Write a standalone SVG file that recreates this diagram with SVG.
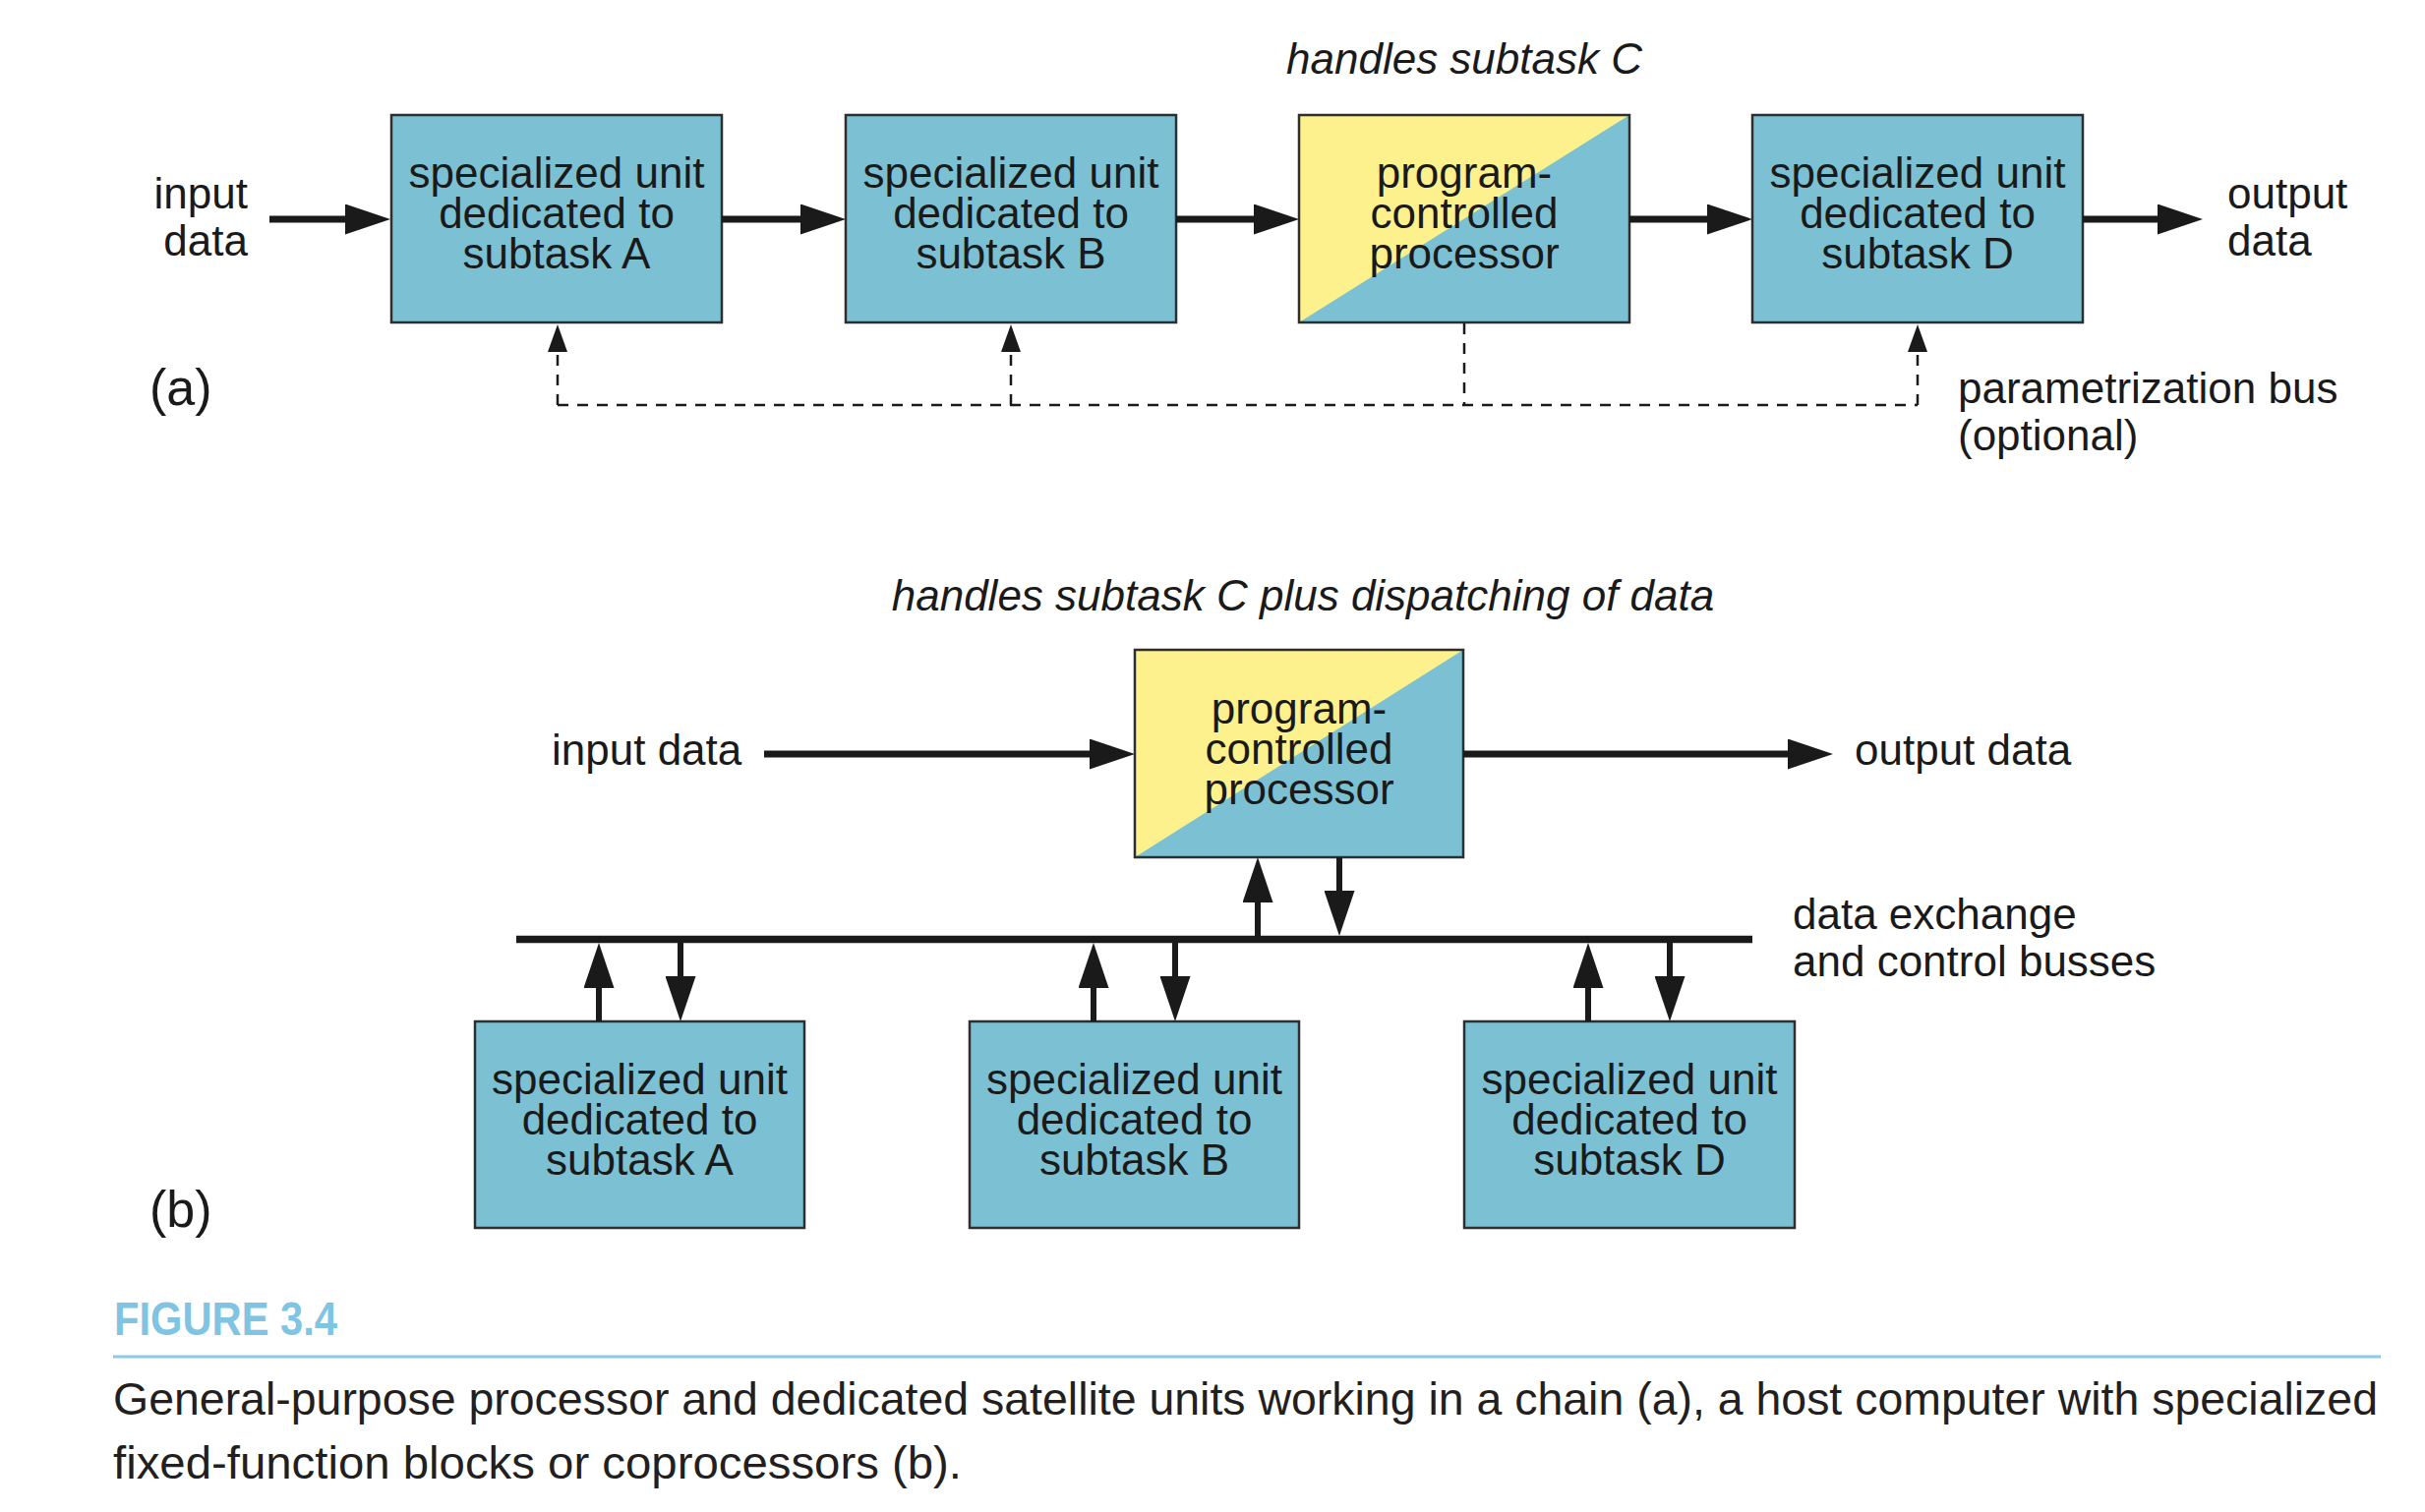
<svg xmlns="http://www.w3.org/2000/svg" width="2466" height="1538" viewBox="0 0 2466 1538">
<defs>
<style>
.box{fill:#7bc1d3;stroke:#2e2e2e;stroke-width:2.5}
.frame{fill:none;stroke:#2e2e2e;stroke-width:2.5}
.yel{fill:#fdf18e}
.t{font-family:"Liberation Sans",Arial,Helvetica,sans-serif;font-size:44px;fill:#1a1a1a}
.c{text-anchor:middle}
.it{font-style:italic}
.lab{font-size:52px}
.arr{stroke:#1a1a1a;stroke-width:7;fill:none;marker-end:url(#ah)}
.vArr{stroke:#1a1a1a;stroke-width:6;fill:none;marker-end:url(#ah)}
.bus{stroke:#1a1a1a;stroke-width:7.5;fill:none}
.dash{stroke:#1a1a1a;stroke-width:2.5;fill:none;stroke-dasharray:11 9}
.dArr{stroke:#1a1a1a;stroke-width:2.5;fill:none;stroke-dasharray:11 9;marker-end:url(#dh)}
.cap{font-family:"Liberation Sans",Arial,Helvetica,sans-serif;font-size:46.5px;fill:#231f20}
.fig{font-family:"Liberation Sans",Arial,Helvetica,sans-serif;font-size:48px;font-weight:bold;fill:#7fc4e3}
</style>
<marker id="ah" markerUnits="userSpaceOnUse" markerWidth="46" markerHeight="31" refX="16" refY="15.5" orient="auto" viewBox="0 0 46 31">
<path d="M0,0 L46,15.5 L0,31 z" fill="#1a1a1a"/>
</marker>
<marker id="dh" markerUnits="userSpaceOnUse" markerWidth="28" markerHeight="20" refX="10" refY="10" orient="auto" viewBox="0 0 28 20">
<path d="M0,0 L28,10 L0,20 z" fill="#1a1a1a"/>
</marker>
</defs>
<rect width="2466" height="1538" fill="#ffffff"/>

<!-- Part (a) nodes -->
<g id="a-unitA">
<rect class="box" x="398" y="117" width="336" height="211"/>
<text class="t c" x="566" y="191">specialized unit</text>
<text class="t c" x="566" y="232">dedicated to</text>
<text class="t c" x="566" y="273">subtask A</text>
</g>
<g id="a-unitB">
<rect class="box" x="860" y="117" width="336" height="211"/>
<text class="t c" x="1028" y="191">specialized unit</text>
<text class="t c" x="1028" y="232">dedicated to</text>
<text class="t c" x="1028" y="273">subtask B</text>
</g>
<g id="a-processor">
<rect x="1321" y="117" width="336" height="211" fill="#7bc1d3"/>
<polygon class="yel" points="1321,117 1657,117 1321,328"/>
<rect class="frame" x="1321" y="117" width="336" height="211"/>
<text class="t c" x="1489" y="191">program-</text>
<text class="t c" x="1489" y="232">controlled</text>
<text class="t c" x="1489" y="273">processor</text>
</g>
<g id="a-unitD">
<rect class="box" x="1782" y="117" width="336" height="211"/>
<text class="t c" x="1950" y="191">specialized unit</text>
<text class="t c" x="1950" y="232">dedicated to</text>
<text class="t c" x="1950" y="273">subtask D</text>
</g>
<g id="a-labels">
<text class="t c it" x="1489" y="75">handles subtask C</text>
<text class="t" x="252" y="212" text-anchor="end">input</text>
<text class="t" x="252" y="260" text-anchor="end">data</text>
<text class="t" x="2265" y="212">output</text>
<text class="t" x="2265" y="260">data</text>
<text class="t" x="1991" y="410">parametrization bus</text>
<text class="t" x="1991" y="458">(optional)</text>
<text class="t lab" x="152" y="412">(a)</text>
</g>

<!-- Part (a) connectors -->
<g id="a-connectors">
<line class="arr" x1="274" y1="223" x2="367" y2="223"/>
<line class="arr" x1="734" y1="223" x2="830" y2="223"/>
<line class="arr" x1="1196" y1="223" x2="1291" y2="223"/>
<line class="arr" x1="1657" y1="223" x2="1752" y2="223"/>
<line class="arr" x1="2118" y1="223" x2="2210" y2="223"/>
<path class="dash" d="M1489,329 L1489,412 M567,412 L1950,412"/>
<line class="dArr" x1="567" y1="412" x2="567" y2="348"/>
<line class="dArr" x1="1028" y1="412" x2="1028" y2="348"/>
<line class="dArr" x1="1950" y1="412" x2="1950" y2="348"/>
</g>

<!-- Part (b) nodes -->
<g id="b-processor">
<rect x="1154" y="661" width="334" height="211" fill="#7bc1d3"/>
<polygon class="yel" points="1154,661 1488,661 1154,872"/>
<rect class="frame" x="1154" y="661" width="334" height="211"/>
<text class="t c" x="1321" y="736">program-</text>
<text class="t c" x="1321" y="777">controlled</text>
<text class="t c" x="1321" y="818">processor</text>
</g>
<g id="b-unitA">
<rect class="box" x="483" y="1039" width="335" height="210"/>
<text class="t c" x="650.5" y="1113">specialized unit</text>
<text class="t c" x="650.5" y="1154">dedicated to</text>
<text class="t c" x="650.5" y="1195">subtask A</text>
</g>
<g id="b-unitB">
<rect class="box" x="986" y="1039" width="335" height="210"/>
<text class="t c" x="1153.5" y="1113">specialized unit</text>
<text class="t c" x="1153.5" y="1154">dedicated to</text>
<text class="t c" x="1153.5" y="1195">subtask B</text>
</g>
<g id="b-unitD">
<rect class="box" x="1489" y="1039" width="336" height="210"/>
<text class="t c" x="1657" y="1113">specialized unit</text>
<text class="t c" x="1657" y="1154">dedicated to</text>
<text class="t c" x="1657" y="1195">subtask D</text>
</g>
<g id="b-labels">
<text class="t c it" x="1325" y="621">handles subtask C plus dispatching of data</text>
<text class="t" x="561" y="778">input data</text>
<text class="t" x="1886" y="778">output data</text>
<text class="t" x="1823" y="945">data exchange</text>
<text class="t" x="1823" y="993">and control busses</text>
<text class="t lab" x="152" y="1248">(b)</text>
</g>

<!-- Part (b) connectors -->
<g id="b-connectors">
<line class="bus" x1="525" y1="955.5" x2="1782" y2="955.5"/>
<line class="arr" x1="777" y1="767" x2="1124" y2="767"/>
<line class="arr" x1="1488" y1="767" x2="1834" y2="767"/>
<line class="vArr" x1="1279" y1="952" x2="1279" y2="902"/>
<line class="vArr" x1="1362" y1="872" x2="1362" y2="922"/>
<line class="vArr" x1="609" y1="1039" x2="609" y2="989"/>
<line class="vArr" x1="692" y1="959" x2="692" y2="1009"/>
<line class="vArr" x1="1112" y1="1039" x2="1112" y2="989"/>
<line class="vArr" x1="1195" y1="959" x2="1195" y2="1009"/>
<line class="vArr" x1="1615" y1="1039" x2="1615" y2="989"/>
<line class="vArr" x1="1698" y1="959" x2="1698" y2="1009"/>
</g>

<!-- Caption -->
<g id="caption">
<text class="fig" x="116" y="1358" textLength="227" lengthAdjust="spacingAndGlyphs">FIGURE 3.4</text>
<line x1="115" y1="1380" x2="2421" y2="1380" stroke="#8cc9e6" stroke-width="3"/>
<text class="cap" x="115" y="1439" textLength="2303" lengthAdjust="spacingAndGlyphs">General-purpose processor and dedicated satellite units working in a chain (a), a host computer with specialized</text>
<text class="cap" x="115" y="1504" textLength="863" lengthAdjust="spacingAndGlyphs">fixed-function blocks or coprocessors (b).</text>
</g>
</svg>
